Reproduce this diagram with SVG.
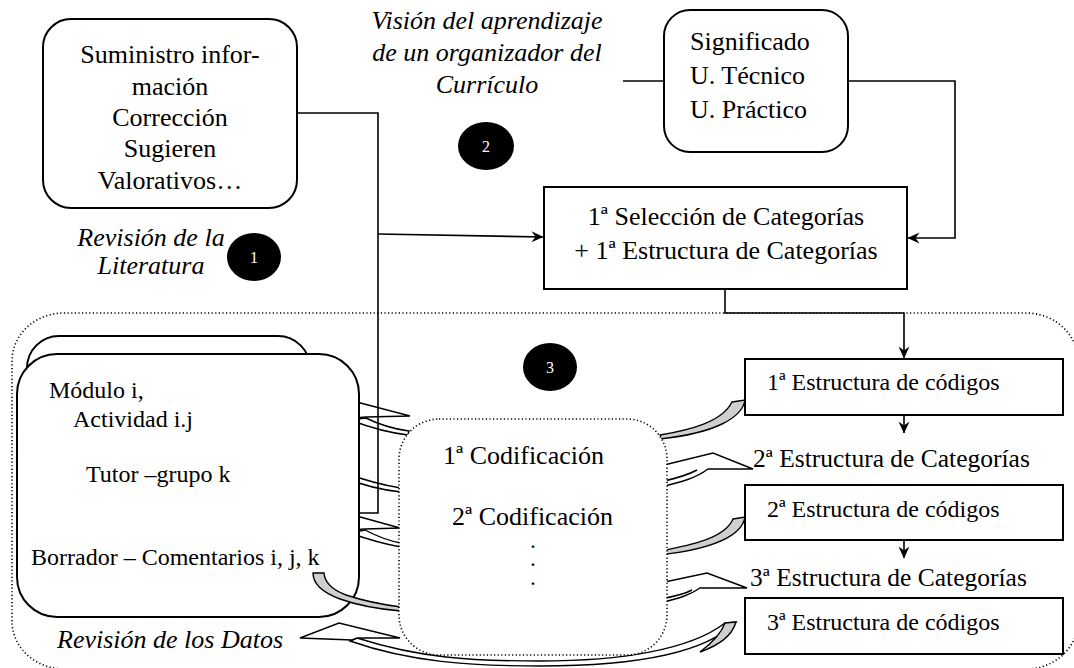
<svg xmlns="http://www.w3.org/2000/svg" width="1074" height="668" viewBox="0 0 1074 668">
<defs>
<style>
.t{font-family:"Liberation Serif","Times New Roman",serif;fill:#000}
.i{font-style:italic}
.box{fill:#fff;stroke:#000;stroke-width:2}
.dot{fill:none;stroke:#000;stroke-width:1.6;stroke-dasharray:1.2 2.4}
.dotw{fill:#fff;stroke:#000;stroke-width:1.6;stroke-dasharray:1.2 2.4}
.ln{fill:none;stroke:#000;stroke-width:1.6}
.aw{fill:#fff;stroke:#000;stroke-width:1.4;stroke-linejoin:miter}
.ag{fill:#cfcfcf;stroke:#000;stroke-width:1.4}
.num{fill:#000}
.nt{font-family:"Liberation Serif",serif;font-size:16px;fill:#fff;text-anchor:middle}
</style>
<marker id="ah" viewBox="0 0 12 12" refX="11.5" refY="6" markerWidth="12" markerHeight="12" markerUnits="userSpaceOnUse" orient="auto">
<path d="M0,0.5 L12,6 L0,11.5 L4,6 Z" fill="#000"/>
</marker>
</defs>

<rect id="frame" class="dot" x="12" y="313" width="1066" height="356" rx="52" ry="48"/>

<g id="node-back-data">
<rect class="box" x="27" y="336" width="283" height="200" rx="32"/>
</g>

<g id="curved-arrows-left">
<path class="aw" d="M330,395 L410,416 L366,417 L330,420 Z"/>
<path class="aw" d="M366,418 Q386,428 409,431 L408,435 Q382,432 350,420 Z"/>
<path class="aw" d="M345,473 Q375,484 401,488 L401,492 Q372,489 345,478 Z"/>
<path class="aw" d="M335,510 L400,528 L365,529 L335,531 Z"/>
<path class="aw" d="M365,530 Q384,540 401,543 L401,547 Q378,543 350,533 Z"/>
<path class="aw" d="M357,638 C420,658 470,661 540,661 C620,661 690,650 725,623 L736,622 C705,654 630,666 540,666 C470,666 410,662 350,641 Z"/>
<path class="ag" d="M725,623 L736,622 C732,636 720,645 700,652 C712,643 721,634 725,623 Z"/>
<path class="aw" d="M300,638 L339,623 L400,638 L357,638 L352,640 Z"/>
</g>

<g id="node-data">
<rect class="box" x="17" y="354" width="342" height="263" rx="40"/>
<text class="t" font-size="24" x="49" y="398">Módulo i,</text>
<text class="t" font-size="24" x="73" y="427">Actividad i.j</text>
<text class="t" font-size="24" x="86" y="482">Tutor –grupo k</text>
<text class="t" font-size="24" x="31" y="565">Borrador – Comentarios i, j, k</text>
</g>

<path class="ag" d="M313,573 L324,573 Q325,587 346,595 Q370,603 401,607 L401,611 Q365,608 340,599 Q313,589 313,573 Z"/>

<g id="curved-arrows-right">
<path class="ag" d="M660,435 C690,430 722,422 732,402 L745,400 C742,418 715,433 660,439 Z"/>
<path class="aw" d="M660,466 L713,453 L753,469 L708,469 C696,478 682,482 660,487 Z"/>
<path class="ln" stroke-width="1.4" d="M697,470 C688,475 678,478 660,482"/>
<path class="ag" d="M660,551 C692,545 725,538 733,519 L745,517 C742,536 712,549 660,555 Z"/>
<path class="aw" d="M660,583 L707,573 L747,588 L700,588 C690,595 680,598 660,603 Z"/>
<path class="ln" stroke-width="1.4" d="M692,590 C685,594 677,596 660,599"/>
</g>

<g id="node-coding">
<rect class="dotw" x="399" y="419" width="268" height="236" rx="40"/>
<text class="t" font-size="26" x="443" y="464">1ª Codificación</text>
<text class="t" font-size="26" x="452" y="525">2ª Codificación</text>
<text class="t" font-size="16" font-weight="bold" x="531" y="548">.</text>
<text class="t" font-size="16" font-weight="bold" x="531" y="566">.</text>
<text class="t" font-size="16" font-weight="bold" x="531" y="585">.</text>
</g>

<g id="node-literature">
<rect class="box" x="43" y="19" width="254" height="189" rx="28"/>
<text class="t" font-size="26" text-anchor="middle" x="170" y="63">Suministro infor-</text>
<text class="t" font-size="26" text-anchor="middle" x="170" y="95">mación</text>
<text class="t" font-size="26" text-anchor="middle" x="170" y="126">Corrección</text>
<text class="t" font-size="26" text-anchor="middle" x="170" y="157">Sugieren</text>
<text class="t" font-size="26" text-anchor="middle" x="170" y="189">Valorativos…</text>
</g>

<g id="label-revision-literatura">
<text class="t i" font-size="26" text-anchor="middle" x="151" y="246">Revisión de la</text>
<text class="t i" font-size="26" text-anchor="middle" x="151" y="274">Literatura</text>
</g>

<g id="label-vision">
<text class="t i" font-size="26" text-anchor="middle" x="487" y="29">Visión del aprendizaje</text>
<text class="t i" font-size="26" text-anchor="middle" x="487" y="61">de un organizador del</text>
<text class="t i" font-size="26" text-anchor="middle" x="487" y="93">Currículo</text>
</g>

<g id="node-significado">
<rect class="box" x="664" y="10" width="184" height="142" rx="26"/>
<text class="t" font-size="26" x="690" y="50">Significado</text>
<text class="t" font-size="26" x="690" y="84">U. Técnico</text>
<text class="t" font-size="26" x="690" y="118">U. Práctico</text>
</g>

<g id="node-seleccion">
<rect class="box" x="544" y="187" width="363" height="102"/>
<text class="t" font-size="26" text-anchor="middle" x="726" y="225">1ª Selección de Categorías</text>
<text class="t" font-size="26" text-anchor="middle" x="726" y="259">+ 1ª Estructura de Categorías</text>
</g>

<g id="node-codigos-1">
<rect class="box" x="745" y="359" width="318" height="56"/>
<text class="t" font-size="24" x="767" y="390">1ª Estructura de códigos</text>
</g>
<g id="label-categorias-2">
<text class="t" font-size="25.5" x="753" y="467">2ª Estructura de Categorías</text>
</g>
<g id="node-codigos-2">
<rect class="box" x="745" y="485" width="318" height="55"/>
<text class="t" font-size="24" x="767" y="517">2ª Estructura de códigos</text>
</g>
<g id="label-categorias-3">
<text class="t" font-size="25.5" x="750" y="586">3ª Estructura de Categorías</text>
</g>
<g id="node-codigos-3">
<rect class="box" x="745" y="598" width="318" height="56"/>
<text class="t" font-size="24" x="767" y="630">3ª Estructura de códigos</text>
</g>

<g id="label-revision-datos">
<text class="t i" font-size="26" x="57" y="648">Revisión de los Datos</text>
</g>

<g id="connectors">
<path class="ln" d="M297,113 H378 V513 H360"/>
<path class="ln" d="M378,234 L543,237" marker-end="url(#ah)"/>
<path class="ln" d="M623,81 H664"/>
<path class="ln" d="M848,81 H955 V238 H908" marker-end="url(#ah)"/>
<path class="ln" d="M725,289 V313 H904 V358" marker-end="url(#ah)"/>
<path class="ln" d="M904,415 V433" marker-end="url(#ah)"/>
<path class="ln" d="M904,540 V558" marker-end="url(#ah)"/>
</g>

<g id="badge-1"><ellipse class="num" cx="254" cy="257" rx="27" ry="24"/><text class="nt" x="254" y="263">1</text></g>
<g id="badge-2"><ellipse class="num" cx="486" cy="146" rx="28" ry="24"/><text class="nt" x="486" y="152">2</text></g>
<g id="badge-3"><ellipse class="num" cx="550" cy="367" rx="27" ry="24"/><text class="nt" x="550" y="373">3</text></g>
</svg>
